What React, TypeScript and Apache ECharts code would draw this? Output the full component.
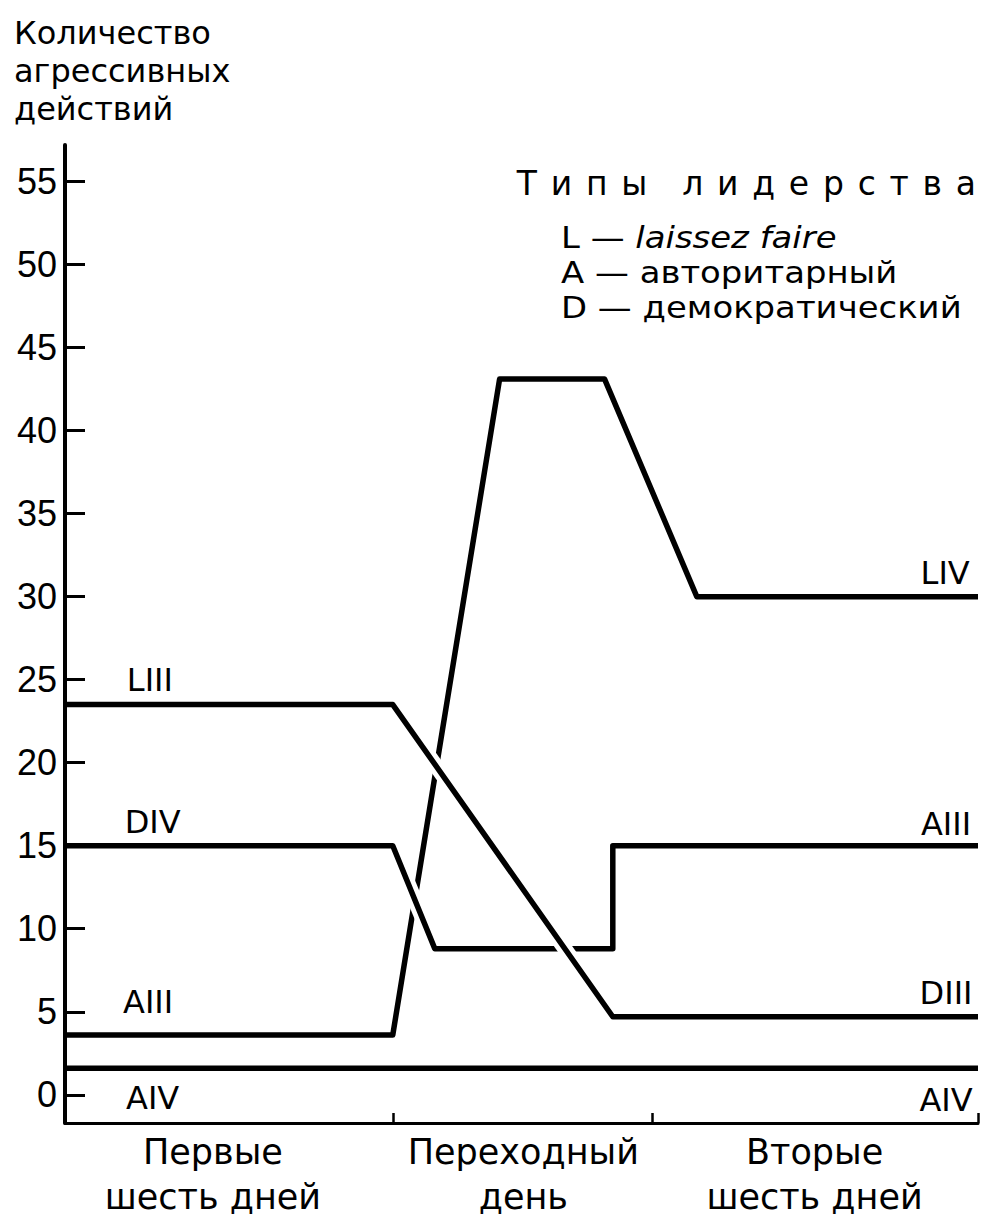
import React, { useEffect, useRef } from "react";
import * as echarts from "echarts";

// x: share of the observation period (0..100), y: number of aggressive acts
const lIII: number[][] = [[0, 23.5], [35.9, 23.5], [60.0, 4.7], [100, 4.7]];
const dIV: number[][] = [[0, 15], [35.9, 15], [40.5, 8.8], [60.0, 8.8], [60.0, 15], [100, 15]];
const aIII: number[][] = [[0, 3.6], [35.9, 3.6], [47.6, 43.1], [59.1, 43.1], [69.2, 30], [100, 30]];
const aIV: number[][] = [[0, 1.6], [100, 1.6]];

const yTicks = [0, 5, 10, 15, 20, 25, 30, 35, 40, 45, 50, 55];
const phaseBounds = [0, 35.9, 64.3, 100];
const phaseCenters = [16.2, 50.2, 82.1];
const phaseLabels = ["Первые\nшесть дней", "Переходный\nдень", "Вторые\nшесть дней"];

const lineLabelNames = ["LIII", "DIV", "AIII", "AIV", "LIV", "AIII", "DIII", "AIV"];
const lineLabelX = [9.3, 9.6, 9.1, 9.6, 96.4, 96.5, 96.5, 96.5];
const lineLabelY = [25.0, 16.4, 5.6, -0.2, 31.4, 16.3, 6.1, -0.3];

const yTitle = "Количество\nагрессивных\nдействий";
const legendTitle = "Типы лидерства";
const legendKeys = ["L", "A", "D"];
const legendNames = ["laissez faire", "авторитарный", "демократический"];
const legendItalic = [true, false, false];

const FONT = "DejaVu Sans";
const INK = "#000";

const spaced = (s: string) =>
  s
    .split(" ")
    .map((w) => w.split("").join(" \u200a"))
    .join("  \u200a ");

export default function App() {
  const ref = useRef<HTMLDivElement>(null);
  useEffect(() => {
    if (!ref.current) return;
    const chart = echarts.init(ref.current, null, { renderer: "svg" });
    const line = (data: number[][], z: number, color = INK, width = 5.5) => ({
      type: "line",
      data,
      z,
      symbol: "none",
      silent: true,
      lineStyle: { color, width, join: "round", cap: "butt" },
    });
    chart.setOption({
      animation: false,
      backgroundColor: "#fff",
      grid: { left: 65, right: 8, top: 145, bottom: 102 },
      xAxis: {
        type: "value",
        min: 0,
        max: 100,
        splitLine: { show: false },
        axisLine: { show: true, onZero: false, lineStyle: { color: INK, width: 3 } },
        axisTick: {
          show: true,
          inside: true,
          length: 10,
          customValues: phaseBounds,
          lineStyle: { color: INK, width: 2.5 },
        },
        axisLabel: {
          show: true,
          customValues: phaseCenters,
          margin: 6,
          color: INK,
          fontFamily: FONT,
          fontSize: 35,
          lineHeight: 45,
          formatter: (v: number) => {
            const i = phaseCenters.findIndex((c) => Math.abs(c - v) < 0.01);
            return i >= 0 ? phaseLabels[i] : "";
          },
        },
      },
      yAxis: {
        type: "value",
        min: -1.7,
        max: 57.2,
        splitLine: { show: false },
        axisLine: { show: true, onZero: false, lineStyle: { color: INK, width: 4 } },
        axisTick: {
          show: true,
          inside: true,
          length: 20,
          customValues: yTicks,
          lineStyle: { color: INK, width: 3 },
        },
        axisLabel: {
          show: true,
          customValues: yTicks,
          margin: 8,
          color: INK,
          fontFamily: "Liberation Sans",
          fontSize: 36,
        },
      },
      series: [
        line(aIV, 2),
        line(aIII, 2),
        line(dIV.slice(1, 3), 3, "#fff", 15),
        line(dIV, 4),
        line(lIII.slice(1, 3), 5, "#fff", 15),
        line(lIII, 6),
        {
          type: "scatter",
          z: 7,
          silent: true,
          symbolSize: 1,
          itemStyle: { color: "rgba(0,0,0,0)" },
          data: lineLabelNames.map((n, i) => ({ name: n, value: [lineLabelX[i], lineLabelY[i]] })),
          label: {
            show: true,
            position: "inside",
            formatter: "{b}",
            color: INK,
            opacity: 1,
            textBorderWidth: 0,
            fontFamily: FONT,
            fontSize: 32,
          },
        },
      ],
      graphic: [
        {
          type: "text",
          left: 14,
          top: 14,
          style: { text: yTitle, fill: INK, font: `32px '${FONT}'`, lineHeight: 38 },
        },
        {
          type: "text",
          right: 10,
          top: 167,
          style: { text: spaced(legendTitle), fill: INK, font: `33px '${FONT}'` },
        },
        ...legendKeys.map((k, i) => ({
          type: "text",
          x: 561,
          y: 223 + i * 35,
          scaleX: 1.13,
          style: {
            text: `{n|${k} — }{${legendItalic[i] ? "i" : "n"}|${legendNames[i]}}`,
            rich: {
              n: { fontFamily: FONT, fontSize: 30, color: INK },
              i: { fontFamily: FONT, fontSize: 30, fontStyle: "italic", color: INK },
            },
          },
        })),
      ],
    });
    return () => chart.dispose();
  }, []);
  return (
    <div
      ref={ref}
      style={{ position: "absolute", left: 0, top: 0, width: 986, height: 1225, background: "#fff" }}
    />
  );
}
